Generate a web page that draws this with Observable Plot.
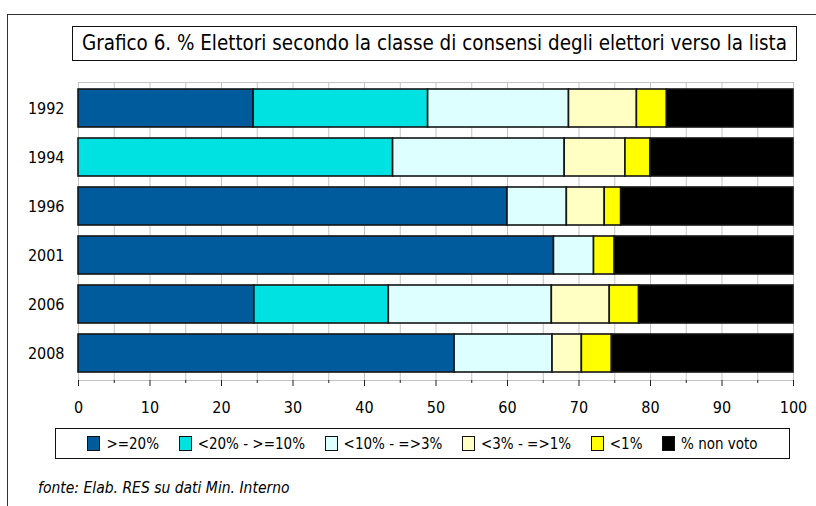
<!DOCTYPE html>
<html>
<head>
<meta charset="utf-8">
<script src="https://cdn.jsdelivr.net/npm/d3@7"></script>
<script src="https://cdn.jsdelivr.net/npm/@observablehq/plot@0.6"></script>
<style>
  html, body { margin: 0; padding: 0; background: #fff; }
  #wrap { position: relative; width: 816px; height: 506px; overflow: hidden; background: #fff;
    font-family: "DejaVu Sans Condensed", "DejaVu Sans", sans-serif; color: #000; }
  #outer { position: absolute; left: 7px; top: 14px; width: 900px; height: 600px;
    border-left: 1px solid #333; border-top: 1px solid #333; }
  #title { position: absolute; left: 72px; top: 26px; width: 725px; height: 35px; box-sizing: border-box;
    border: 1px solid #111; font-size: 20.4px; line-height: 33px; text-align: center; white-space: nowrap; background: #fff; }
  #chart { position: absolute; left: 0; top: 70px; }
  #legend { position: absolute; left: 55px; top: 428px; width: 735px; height: 31px; box-sizing: border-box;
    border: 1px solid #111; display: flex; align-items: center; justify-content: center; font-size: 15px; white-space: nowrap; background: #fff; }
  .item { display: flex; align-items: center; margin: 0 9.8px; }
  .sw { width: 13px; height: 15px; box-sizing: border-box; border: 1px solid #111; margin-right: 6px; }
  #source { position: absolute; left: 38px; top: 479px; font-size: 15.5px; font-style: italic; white-space: nowrap; }
</style>
</head>
<body>
<div id="wrap">
  <div id="outer"></div>
  <div id="title"></div>
  <div id="chart"></div>
  <div id="legend"></div>
  <div id="source"></div>
</div>
<script>
const years = ["1992", "1994", "1996", "2001", "2006", "2008"];
const classes = [">=20%", "<20% - >=10%", "<10% - =>3%", "<3% - =>1%", "<1%", "% non voto"];
const colors = ["#005b9c", "#00e1e1", "#ddffff", "#ffffc4", "#ffff00", "#000000"];

const ge20       = [24.5,  0.0, 60.0, 66.5, 24.6, 52.6];
const from10to20 = [24.4, 44.0,  0.0,  0.0, 18.8,  0.0];
const from3to10  = [19.7, 24.0,  8.3,  5.6, 22.8, 13.7];
const from1to3   = [ 9.5,  8.5,  5.3,  0.0,  8.1,  4.1];
const lt1        = [ 4.2,  3.5,  2.3,  2.9,  4.1,  4.2];
const nonVoto    = [17.7, 20.0, 24.1, 25.0, 21.6, 25.4];

const xTicks = d3.range(0, 101, 10);
const xMinorTicks = d3.range(5, 100, 10);
const gridTicks = d3.range(5, 100, 5);

const titleText = "Grafico 6. % Elettori secondo la classe di consensi degli elettori verso la lista";
const sourceText = "fonte: Elab. RES su dati Min. Interno";

const series = [ge20, from10to20, from3to10, from1to3, lt1, nonVoto];
const data = [];
years.forEach((y, i) => {
  classes.forEach((c, k) => {
    const v = series[k][i];
    if (v > 0) data.push({year: y, cls: c, value: v});
  });
});

document.getElementById("title").textContent = titleText;
document.getElementById("source").textContent = sourceText;

const legend = document.getElementById("legend");
classes.forEach((c, k) => {
  const it = document.createElement("div");
  it.className = "item";
  const sw = document.createElement("div");
  sw.className = "sw";
  sw.style.background = colors[k];
  const t = document.createElement("span");
  t.textContent = c;
  it.appendChild(sw);
  it.appendChild(t);
  legend.appendChild(it);
});

const chart = Plot.plot({
  width: 816,
  height: 350,
  marginLeft: 78,
  marginRight: 23,
  marginTop: 12,
  marginBottom: 40,
  style: {fontFamily: '"DejaVu Sans Condensed", "DejaVu Sans", sans-serif', fontSize: "16px", color: "#000", background: "transparent", overflow: "visible"},
  x: {domain: [0, 100], label: null},
  y: {domain: years, paddingInner: 0.22, paddingOuter: 0.1, label: null},
  color: {domain: classes, range: colors},
  marks: [
    Plot.gridX(gridTicks, {stroke: "#c4c4c4", strokeOpacity: 1}),
    Plot.frame({stroke: "#c4c4c4"}),
    Plot.barX(data, Plot.stackX({x: "value", y: "year", fill: "cls", stroke: "#151515", strokeWidth: 1.6})),
    Plot.axisX(xTicks, {tickSize: 6, tickPadding: 15, stroke: "#222", fill: "#000", fontSize: 16, label: null}),
    Plot.axisX(xMinorTicks, {tickSize: 3, text: null, stroke: "#222", label: null}),
    Plot.axisY({tickSize: 0, tickPadding: 14, fill: "#000", fontSize: 16, label: null})
  ]
});
document.getElementById("chart").appendChild(chart);
</script>
</body>
</html>
